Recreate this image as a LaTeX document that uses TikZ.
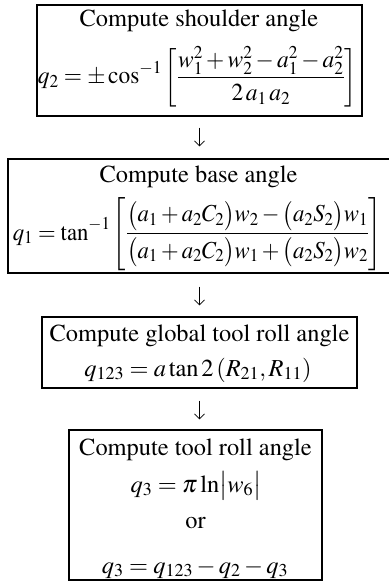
\documentclass[tikz,border=0pt]{standalone}
\usepackage[T1]{fontenc}
\usepackage{mathptmx}
\usepackage{graphicx}
\usetikzlibrary{arrows.meta}
\begin{document}
\begin{tikzpicture}[x=1bp,y=-1bp,
  box/.style={draw, line width=1.2bp, inner sep=0pt},
  txt/.style={anchor=base, inner sep=0pt, font=\fontsize{24.5}{29}\selectfont},
  flow/.style={line width=0.8bp, -{Straight Barb[length=5bp,width=10bp]}}]
\useasboundingbox (0,0) rectangle (388,583);
\fill[white] (0,0) rectangle (388,583);
% boxes
\node[box, minimum width=325bp, minimum height=111bp] (b1) at (199.5,60.5) {};
\node[box, minimum width=390bp, minimum height=114bp] (b2) at (203,216) {};
\node[box, minimum width=315bp, minimum height=71bp] (b3) at (199.5,352.5) {};
\node[box, minimum width=253bp, minimum height=150bp] (b4) at (195.5,505) {};
% texts
\node[txt] (t1a) at (199,27) {Compute shoulder angle};
\node[txt] (t1b) at (197.5,84) {\scalebox{0.96}[1]{$\displaystyle q_2=\pm\cos^{-1}\left[\frac{w_1^2+w_2^2-a_1^2-a_2^2}{2\,a_1\,a_2}\right]$}};
\node[txt] (t2a) at (198.5,182) {Compute base angle};
\node[txt] (t2b) at (197.5,240) {\scalebox{0.93}[1]{$\displaystyle q_1=\tan^{-1}\left[\frac{\bigl(a_1+a_2C_2\bigr)w_2-\bigl(a_2S_2\bigr)w_1}{\bigl(a_1+a_2C_2\bigr)w_1+\bigl(a_2S_2\bigr)w_2}\right]$}};
\node[txt] (t3a) at (199.5,341) {Compute global tool roll angle};
\node[txt] (t3b) at (198,376) {$q_{123}=a\tan2\,(R_{21},R_{11})$};
\node[txt] (t4a) at (195.5,455) {Compute tool roll angle};
\node[txt] (t4b) at (196,492) {$q_3=\pi\ln\bigl|w_6\bigr|$};
\node[txt] (t4c) at (195.5,528) {or};
\node[txt] (t4d) at (195,573) {$q_3=q_{123}-q_2-q_3$};
% arrows
\draw[flow, shorten <=11bp, shorten >=12bp] (b1.south) -- (b1.south |- b2.north);
\draw[flow, shorten <=13bp, shorten >=11bp] (b3.north |- b2.south) -- (b3.north);
\draw[flow, shorten <=12bp, shorten >=10bp] (b3.south) -- (b3.south |- b4.north);
\end{tikzpicture}
\end{document}
